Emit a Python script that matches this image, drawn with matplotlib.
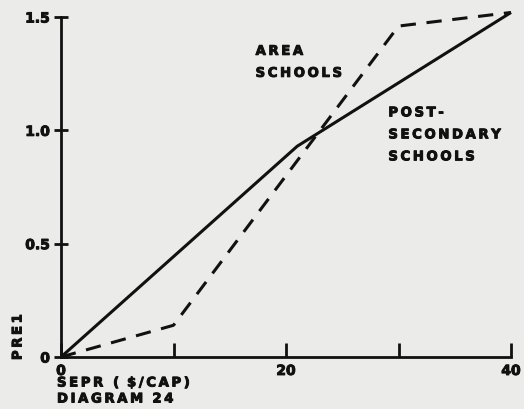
import matplotlib
matplotlib.use("Agg")
import matplotlib.pyplot as plt
import matplotlib.patheffects as pe

# Data
sepr_post = [0, 21, 40]
pre1_post = [0, 0.93, 1.52]
sepr_area = [0, 10, 30, 40]
pre1_area = [0, 0.14, 1.46, 1.52]

x_ticks = [0, 10, 20, 30, 40]
x_ticklabels = ["0", "", "20", "", "40"]
y_ticks = [0, 0.5, 1.0, 1.5]
y_ticklabels = ["0", "0.5", "1.0", "1.5"]

bg = "#ebebe9"
ink = "#111111"
thick = [pe.withStroke(linewidth=0.7, foreground=ink)]


def spaced(s):
    return "\u2009".join(s)


fig = plt.figure(figsize=(5.24, 4.10), dpi=100, facecolor=bg)
ax = fig.add_axes([61/524, 52/410, (511-61)/524, (358-18)/410], facecolor=bg)

ax.plot(sepr_post, pre1_post, color=ink, lw=2.2, solid_capstyle="butt", clip_on=False)
ax.plot(sepr_area, pre1_area, color=ink, lw=2.2, dashes=(5, 3.5), clip_on=False)

ax.set_xlim(0, 40)
ax.set_ylim(0, 1.5)
for s in ["top", "right"]:
    ax.spines[s].set_visible(False)
for s in ["left", "bottom"]:
    ax.spines[s].set_linewidth(2.0)
    ax.spines[s].set_color(ink)

ax.set_xticks(x_ticks)
ax.set_xticklabels(x_ticklabels)
ax.set_yticks(y_ticks)
ax.set_yticklabels(y_ticklabels)
ax.tick_params(axis="x", direction="in", length=10, width=2, colors=ink, pad=5)
ax.tick_params(axis="y", direction="inout", length=10, width=2, colors=ink, pad=3)
for lab in ax.get_xticklabels() + ax.get_yticklabels():
    lab.set_fontweight("bold")
    lab.set_fontsize(10)
    lab.set_color(ink)
    lab.set_path_effects(thick)

kw = dict(fontweight="bold", fontsize=9.5, color=ink, family="DejaVu Sans",
          path_effects=thick)
ax.text(17.3, 1.30, spaced("AREA") + "\n" + spaced("SCHOOLS"),
        ha="left", va="center", linespacing=1.9, **kw)
ax.text(29.1, 0.98, spaced("POST-") + "\n" + spaced("SECONDARY") + "\n" + spaced("SCHOOLS"),
        ha="left", va="center", linespacing=1.9, **kw)

fig.text(18/524, 1 - 338/410, spaced("PRE1"), rotation=90, ha="center", va="center", **kw)
fig.text(57/524, 1 - 384/410, spaced("SEPR (\u2009$/CAP)"), ha="left", va="center", **kw)
fig.text(57/524, 1 - 400/410, spaced("DIAGRAM") + "  " + spaced("24"), ha="left", va="center", **kw)

fig.savefig("out.png", dpi=100, facecolor=bg)
